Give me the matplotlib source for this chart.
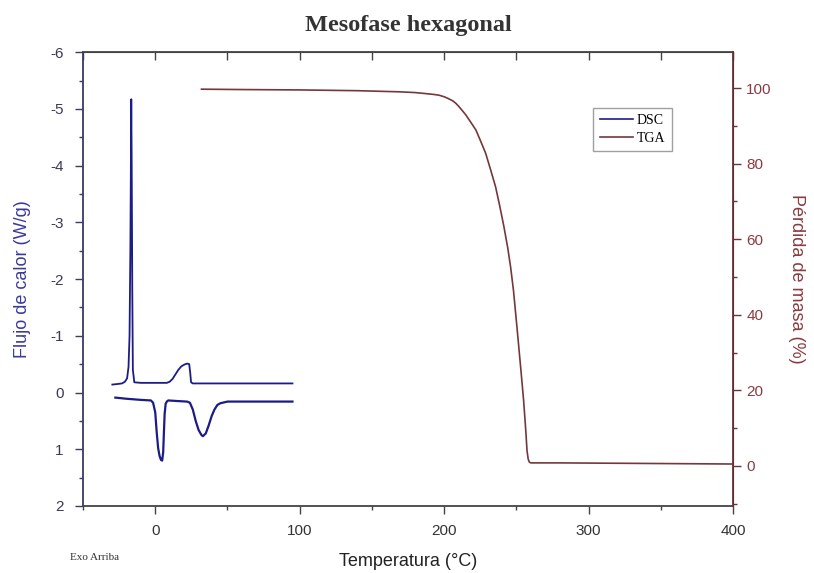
import matplotlib
matplotlib.use("Agg")
import matplotlib.pyplot as plt
from matplotlib.ticker import MultipleLocator
from matplotlib.lines import Line2D

# DSC, curva superior (pico exotermico)
dsc1_t = [-29.7, -26, -23, -21, -19.5, -18.5, -17.8, -17.2, -16.8, -16.6, -16.3, -15.9, -15.5, -14.5, -10,
          0, 8, 10, 12, 14, 16, 18, 20, 22, 23.5, 24.2, 24.8, 26, 40, 60, 80, 95]
dsc1_v = [-0.14, -0.15, -0.16, -0.19, -0.25, -0.45, -1.0, -2.6, -4.3, -5.17, -4.0, -1.8, -0.4, -0.18, -0.17,
          -0.17, -0.17, -0.19, -0.24, -0.32, -0.40, -0.46, -0.49, -0.51, -0.50, -0.35, -0.18, -0.16, -0.16, -0.16, -0.16, -0.16]

# DSC, curva inferior (picos endotermicos)
dsc2_t = [-27.6, -20, -10, -3, -1.5, 0, 1, 2, 3, 4, 4.8, 5.5, 6, 6.5, 7.2, 8, 9,
          15, 22, 24, 26, 28, 30, 32, 33, 35, 37, 39, 41, 43, 45, 50, 70, 95]
dsc2_v = [0.09, 0.11, 0.13, 0.14, 0.18, 0.35, 0.7, 0.98, 1.12, 1.19, 1.2, 1.05, 0.7, 0.38, 0.2, 0.16, 0.14,
          0.15, 0.16, 0.18, 0.30, 0.50, 0.66, 0.75, 0.77, 0.72, 0.58, 0.42, 0.30, 0.22, 0.19, 0.16, 0.16, 0.16]

# TGA
tga_t = [32, 60, 100, 140, 169, 180, 188, 193, 196.5, 200, 203, 206, 208, 210, 212, 215, 218, 222, 225,
         228.7, 232, 235.6, 238.5, 241.4, 244, 246, 248, 250.6, 253, 255, 256.5, 257.4, 258.2, 259,
         260, 280, 320, 360, 400]
tga_v = [99.7, 99.6, 99.5, 99.3, 99.0, 98.8, 98.5, 98.3, 98.1, 97.7, 97.2, 96.6, 96.0, 95.2, 94.3, 92.9,
         91.2, 88.9, 86.2, 82.8, 78.6, 73.9, 68.8, 63.3, 57.8, 52.7, 46.5, 36.0, 26.0, 17.5, 9.5, 4.0,
         1.8, 1.0, 0.8, 0.8, 0.7, 0.6, 0.5]

c_dsc = "#1c1c86"
c_tga = "#74383c"
c_left = "#3a3a9c"
c_right = "#8a3b40"

plt.rcParams["axes.unicode_minus"] = False

fig = plt.figure(figsize=(8.14, 5.73), dpi=100)
ax = fig.add_axes([0.102, 0.117, 0.7985, 0.792])
ax2 = ax.twinx()

ax.plot(dsc1_t, dsc1_v, color=c_dsc, lw=1.3)
ax.plot(dsc2_t, dsc2_v, color=c_dsc, lw=1.6)
ax2.plot(tga_t, tga_v, color=c_tga, lw=1.2)

ax.set_xlim(-50, 400)
ax.set_ylim(2, -6)
ax2.set_ylim(-10.6, 109.5)

ax.xaxis.set_major_locator(MultipleLocator(100))
ax.xaxis.set_minor_locator(MultipleLocator(50))
ax.yaxis.set_major_locator(MultipleLocator(1))
ax.yaxis.set_minor_locator(MultipleLocator(0.5))
ax2.yaxis.set_major_locator(MultipleLocator(20))
ax2.yaxis.set_minor_locator(MultipleLocator(10))

ax.tick_params(axis="x", which="major", direction="out", length=6, width=1, colors="#444444",
               labelsize=11, labelcolor="#333333", pad=7)
ax.tick_params(axis="x", which="minor", direction="out", length=3, width=1, colors="#444444")
ax.tick_params(axis="y", which="major", direction="out", length=6, width=1, colors="#3a3a66",
               labelsize=11, labelcolor="#3a3a55", pad=8)
ax.tick_params(axis="y", which="minor", direction="out", length=3, width=1, colors="#3a3a66")
ax2.tick_params(axis="y", which="major", direction="out", length=6, width=1, colors="#6a3438",
                labelsize=11, labelcolor=c_right)
ax2.tick_params(axis="y", which="minor", direction="out", length=3, width=1, colors="#6a3438")

# marcas del eje superior hacia dentro
top = ax.secondary_xaxis("top")
top.xaxis.set_major_locator(MultipleLocator(50))
top.tick_params(direction="in", length=6, width=1, colors="#444444", labeltop=False)
top.spines["top"].set_color("#444444")

for s in ["bottom", "top"]:
    ax.spines[s].set_color("#444444")
    ax.spines[s].set_linewidth(1.3)
ax.spines["left"].set_color("#3a3a66")
ax.spines["left"].set_linewidth(1.3)
ax2.spines["right"].set_color("#6a3438")
ax2.spines["right"].set_linewidth(1.3)
ax2.spines["left"].set_visible(False)
ax2.spines["top"].set_visible(False)
ax2.spines["bottom"].set_visible(False)

ax.set_xlabel("Temperatura (°C)", fontsize=13, color="#222222", family="Liberation Sans", labelpad=11)
ax.set_ylabel("Flujo de calor (W/g)", fontsize=13, color=c_left, family="Liberation Sans", labelpad=14)
ax2.set_ylabel("Pérdida de masa (%)", fontsize=13, color=c_right, family="Liberation Sans",
               rotation=270, labelpad=24)

for lab in ax.get_xticklabels() + ax.get_yticklabels() + ax2.get_yticklabels():
    lab.set_family("Liberation Sans")

fig.text(0.502, 0.955, "Mesofase hexagonal", ha="center", va="center", fontsize=17.5,
         family="Liberation Serif", weight="bold", color="#333333")
fig.text(0.086, 0.027, "Exo Arriba", ha="left", va="center", fontsize=8,
         family="Liberation Serif", color="#333333")

handles = [Line2D([], [], color=c_dsc, lw=1.2), Line2D([], [], color=c_tga, lw=1.2)]
leg = ax2.legend(handles, ["DSC", "TGA"], loc="upper left", bbox_to_anchor=(0.785, 0.877),
                 prop={"family": "Liberation Serif", "size": 10}, frameon=True, fancybox=False,
                 handlelength=2.4, handletextpad=0.3, borderpad=0.45, labelspacing=0.35,
                 borderaxespad=0)
leg.get_frame().set_edgecolor("#888888")
leg.get_frame().set_linewidth(1.0)

fig.savefig("out.png", dpi=100)
